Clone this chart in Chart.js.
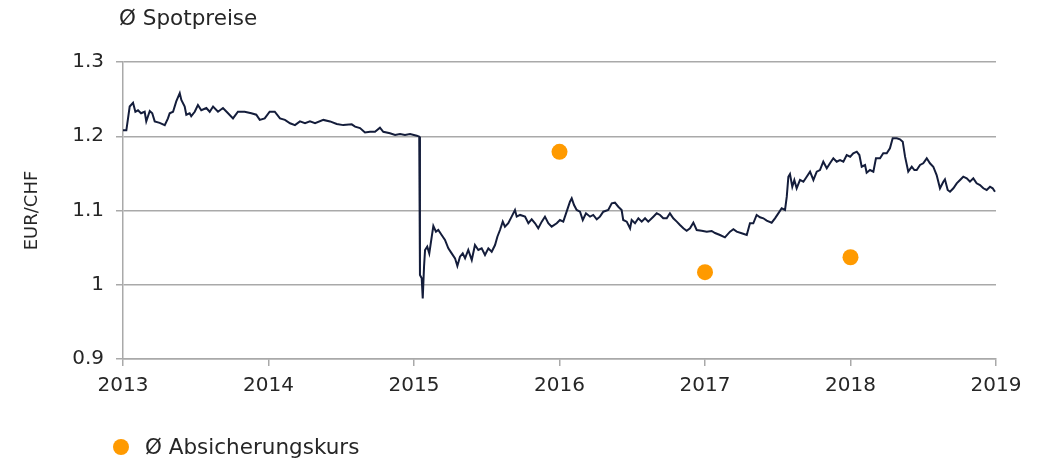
<!DOCTYPE html>
<html>
<head>
<meta charset="utf-8">
<script src="https://cdn.jsdelivr.net/npm/chart.js@4/dist/chart.umd.min.js"></script>
<style>
  body { margin: 0; background: #fff; }
  #wrap { position: relative; width: 1039px; height: 460px; font-family: "DejaVu Sans", Verdana, sans-serif; color: #262626; }
  #spot-label { position: absolute; left: 119px; top: 5px; font-size: 21.5px; }
  #legend { position: absolute; left: 113px; top: 434px; font-size: 21.5px; display: flex; align-items: center; }
  #legend .dot { width: 16px; height: 16px; border-radius: 50%; background: #ff9a00; margin-right: 16px; }
</style>
</head>
<body>
<div id="wrap">
  <canvas id="chart" width="1039" height="460"></canvas>
  <div id="spot-label">Ø Spotpreise</div>
  <div id="legend"><span class="dot"></span>Ø Absicherungskurs</div>
</div>
<script>
// daily EUR/CHF spot rate (decimal years)
const spotYears = [
  2013.000, 2013.023, 2013.046, 2013.069, 2013.085, 2013.103, 2013.124, 2013.149, 2013.160, 2013.184,
  2013.201, 2013.218, 2013.252, 2013.287, 2013.309, 2013.321, 2013.344, 2013.366, 2013.390, 2013.401,
  2013.424, 2013.435, 2013.458, 2013.469, 2013.493, 2013.515, 2013.538, 2013.573, 2013.596, 2013.619,
  2013.653, 2013.687, 2013.722, 2013.756, 2013.790, 2013.836, 2013.882, 2013.916, 2013.940, 2013.974,
  2014.008, 2014.043, 2014.079, 2014.113, 2014.148, 2014.182, 2014.216, 2014.251, 2014.285, 2014.320,
  2014.377, 2014.423, 2014.469, 2014.514, 2014.572, 2014.595, 2014.629, 2014.663, 2014.698, 2014.732,
  2014.766, 2014.789, 2014.835, 2014.870, 2014.904, 2014.938, 2014.973, 2015.019, 2015.036,
  2015.041, 2015.053, 2015.060, 2015.069, 2015.076, 2015.091, 2015.105, 2015.122, 2015.133, 2015.151,
  2015.167, 2015.190, 2015.213, 2015.236, 2015.259, 2015.282, 2015.298, 2015.316, 2015.335, 2015.351,
  2015.373, 2015.397, 2015.419, 2015.442, 2015.465, 2015.488, 2015.511, 2015.534, 2015.557, 2015.573,
  2015.591, 2015.610, 2015.625, 2015.648, 2015.671, 2015.694, 2015.706, 2015.729, 2015.763, 2015.786,
  2015.809, 2015.832, 2015.854, 2015.878, 2015.900, 2015.923, 2015.946, 2015.981, 2016.003, 2016.026,
  2016.049, 2016.072, 2016.084, 2016.100, 2016.118, 2016.141, 2016.160, 2016.182, 2016.210, 2016.232,
  2016.256, 2016.278, 2016.301, 2016.335, 2016.359, 2016.381, 2016.404, 2016.427, 2016.438, 2016.462,
  2016.485, 2016.496, 2016.519, 2016.542, 2016.565, 2016.588, 2016.610, 2016.645, 2016.668, 2016.691,
  2016.713, 2016.737, 2016.759, 2016.782, 2016.806, 2016.828, 2016.851, 2016.874, 2016.897, 2016.920,
  2016.943, 2016.977, 2017.012, 2017.046, 2017.069, 2017.103, 2017.137, 2017.172, 2017.195, 2017.218,
  2017.252, 2017.287, 2017.309, 2017.332, 2017.355, 2017.378, 2017.401, 2017.424, 2017.458, 2017.481,
  2017.504, 2017.527, 2017.550, 2017.562, 2017.573, 2017.584, 2017.600, 2017.614, 2017.630, 2017.653,
  2017.676, 2017.699, 2017.722, 2017.745, 2017.768, 2017.790, 2017.813, 2017.837, 2017.859, 2017.882,
  2017.905, 2017.928, 2017.951, 2017.974, 2017.998, 2018.019, 2018.043, 2018.061, 2018.077, 2018.100,
  2018.111, 2018.134, 2018.157, 2018.175, 2018.203, 2018.225, 2018.249, 2018.271, 2018.290, 2018.318,
  2018.340, 2018.359, 2018.375, 2018.397, 2018.421, 2018.439, 2018.455, 2018.478, 2018.500, 2018.524,
  2018.546, 2018.569, 2018.592, 2018.615, 2018.638, 2018.649, 2018.668, 2018.684, 2018.707, 2018.730,
  2018.753, 2018.775, 2018.799, 2018.821, 2018.844, 2018.867, 2018.890, 2018.913, 2018.936, 2018.959,
  2018.977, 2018.993
];
const spotRates = [
  1.208, 1.208, 1.240, 1.245, 1.233, 1.235, 1.231, 1.233, 1.220, 1.234,
  1.231, 1.220, 1.218, 1.215, 1.224, 1.231, 1.233, 1.247, 1.258, 1.249,
  1.240, 1.229, 1.231, 1.227, 1.233, 1.242, 1.235, 1.238, 1.233, 1.240,
  1.233, 1.238, 1.231, 1.224, 1.233, 1.233, 1.231, 1.229, 1.222, 1.224,
  1.233, 1.233, 1.224, 1.222, 1.2175, 1.215, 1.220, 1.2175, 1.220, 1.2175,
  1.222, 1.220, 1.2165, 1.215, 1.216, 1.213, 1.211, 1.205, 1.206, 1.206,
  1.2115, 1.206, 1.204, 1.2017, 1.203, 1.2017, 1.203, 1.2008, 1.1994,
  1.013, 1.0087, 0.9817, 1.0243, 1.0468, 1.0513, 1.0423, 1.0647, 1.0791, 1.0715,
  1.0737, 1.067, 1.0603, 1.0491, 1.0423, 1.0356, 1.0253, 1.0378, 1.0423, 1.0356,
  1.0468, 1.0333, 1.0535, 1.0468, 1.0491, 1.040, 1.049, 1.0445, 1.0535, 1.0647,
  1.0737, 1.085, 1.0782, 1.0828, 1.0917, 1.1007, 1.0917, 1.094, 1.0917, 1.0828,
  1.0881, 1.0828, 1.076, 1.085, 1.0917, 1.0828, 1.0782, 1.0828, 1.0872, 1.085,
  1.0984, 1.1118, 1.1164, 1.1074, 1.1007, 1.0984, 1.0872, 1.0962, 1.0917, 1.094,
  1.0881, 1.0917, 1.0984, 1.1007, 1.1097, 1.1105, 1.1051, 1.1007, 1.0872, 1.085,
  1.076, 1.0872, 1.0828, 1.0895, 1.085, 1.0895, 1.085, 1.0917, 1.0962, 1.094,
  1.0895, 1.0895, 1.0962, 1.0895, 1.085, 1.0805, 1.076, 1.0728, 1.076, 1.0836,
  1.0737, 1.0728, 1.0715, 1.0724, 1.0697, 1.067, 1.0639, 1.0715, 1.0747, 1.0715,
  1.0693, 1.067, 1.0828, 1.0828, 1.094, 1.0909, 1.0895, 1.0863, 1.0836, 1.0895,
  1.0962, 1.103, 1.1007, 1.1186, 1.1455, 1.1492, 1.132, 1.1411, 1.1299, 1.1411,
  1.1388, 1.1455, 1.1523, 1.1411, 1.1523, 1.1545, 1.1657, 1.1568, 1.1636, 1.1703,
  1.1657, 1.168, 1.1657, 1.1747, 1.1725, 1.177, 1.1792, 1.1747, 1.159, 1.1613,
  1.1509, 1.1545, 1.1523, 1.1703, 1.1703, 1.177, 1.177, 1.1838, 1.1973, 1.1973,
  1.1959, 1.1927, 1.1725, 1.1523, 1.159, 1.1545, 1.1545, 1.1613, 1.1636, 1.1703,
  1.1636, 1.159, 1.1478, 1.1299, 1.1388, 1.142, 1.1276, 1.1253, 1.1299, 1.1366,
  1.1411, 1.1455, 1.1433, 1.1388, 1.1433, 1.1366, 1.1343, 1.1299, 1.1276, 1.132,
  1.1299, 1.1253
];

// average hedging rate (orange dots)
const hedgeYears = [2016, 2017, 2018];
const hedgeRates = [1.179, 1.017, 1.037];

const xTickLabels = ['2013', '2014', '2015', '2016', '2017', '2018', '2019'];
const yTickLabels = ['0.9', '1', '1.1', '1.2', '1.3'];

const gridGrey = '#a9a9a9';
const textColor = '#262626';
const font = { family: '"DejaVu Sans", Verdana, sans-serif', size: 20 };

const ctx = document.getElementById('chart').getContext('2d');
new Chart(ctx, {
    data: {
        datasets: [
            {
                type: 'line',
                label: 'Ø Spotpreise',
                data: spotYears.map((x, i) => ({ x: x, y: spotRates[i] })),
                borderColor: '#141d3b',
                borderWidth: 2,
                pointRadius: 0,
                tension: 0,
                order: 2,
            },
            {
                type: 'scatter',
                label: 'Ø Absicherungskurs',
                data: hedgeYears.map((x, i) => ({ x: x, y: hedgeRates[i] })),
                backgroundColor: '#ff9a00',
                borderWidth: 0,
                pointRadius: 8,
                order: 1,
            },
        ],
    },
    options: {
        responsive: false,
        animation: false,
        devicePixelRatio: 1,
        layout: { padding: { top: 62, right: 43, bottom: 0, left: 0 } },
        plugins: {
            legend: { display: false },
            tooltip: { enabled: false },
        },
        scales: {
            x: {
                type: 'linear',
                min: 2013,
                max: 2019,
                afterFit: s => { s.height = 101; },
                afterBuildTicks: s => { s.ticks = xTickLabels.map(t => ({ value: Number(t) })); },
                ticks: {
                    color: textColor,
                    font: font,
                    padding: 8,
                    maxRotation: 0,
                    callback: (v, i) => xTickLabels[i],
                },
                grid: { drawOnChartArea: false, drawTicks: true, tickLength: 7, color: gridGrey, lineWidth: 1.5 },
                border: { color: gridGrey, width: 1.5 },
            },
            y: {
                min: 0.9,
                max: 1.3,
                afterFit: s => { s.width = 123; },
                afterBuildTicks: s => { s.ticks = yTickLabels.map(t => ({ value: Number(t) })); },
                ticks: {
                    color: textColor,
                    font: font,
                    padding: 12,
                    callback: (v, i) => yTickLabels[i],
                },
                title: {
                    display: true,
                    text: 'EUR/CHF',
                    color: textColor,
                    font: { family: font.family, size: 18 },
                    padding: { top: 22, bottom: 0 },
                },
                grid: { drawTicks: true, tickLength: 7, color: gridGrey, lineWidth: 1.5 },
                border: { color: gridGrey, width: 1.5 },
            },
        },
    },
});
</script>
</body>
</html>
